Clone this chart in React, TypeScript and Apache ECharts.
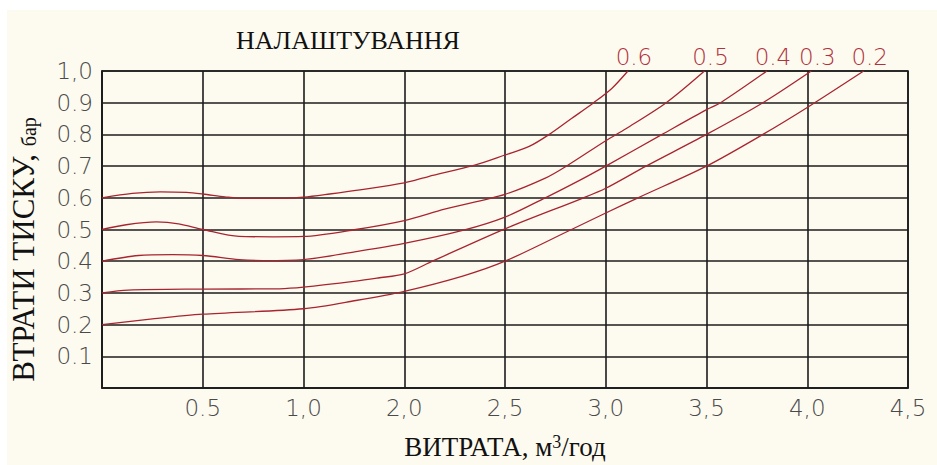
import React, { useEffect, useRef } from "react";
import * as echarts from "echarts";

const X_TICK_LABELS = ["", "0.5", "1,0", "2,0", "2,5", "3,0", "3,5", "4,0", "4,5"];
const Y_TICK_LABELS = ["", "0.1", "0.2", "0.3", "0.4", "0.5", "0.6", "0.7", "0.8", "0.9", "1,0"];
const SETTINGS = ["0.6", "0.5", "0.4", "0.3", "0.2"];

const CURVE_06 = [[0, 0.6], [0.15, 0.614], [0.29, 0.619], [0.42, 0.617], [0.5, 0.612], [0.61, 0.603], [0.7, 0.598], [0.88, 0.598], [1.0, 0.602], [1.13, 0.612], [1.28, 0.625], [1.5, 0.647], [1.62, 0.667], [1.85, 0.703], [2.0, 0.735], [2.12, 0.762], [2.22, 0.8], [2.33, 0.85], [2.44, 0.9], [2.53, 0.945], [2.61, 1.0]];
const CURVE_05 = [[0, 0.5], [0.12, 0.515], [0.27, 0.524], [0.38, 0.518], [0.5, 0.5], [0.68, 0.478], [0.85, 0.477], [1.0, 0.478], [1.26, 0.5], [1.5, 0.528], [1.7, 0.564], [2.0, 0.611], [2.2, 0.662], [2.3, 0.698], [2.5, 0.78], [2.6, 0.818], [2.8, 0.9], [2.99, 1.0]];
const CURVE_04 = [[0, 0.4], [0.18, 0.418], [0.35, 0.421], [0.5, 0.418], [0.68, 0.405], [0.8, 0.402], [1.0, 0.405], [1.26, 0.43], [1.5, 0.456], [1.79, 0.497], [2.0, 0.539], [2.2, 0.6], [2.37, 0.655], [2.5, 0.7], [2.78, 0.8], [3.0, 0.878], [3.07, 0.9], [3.3, 1.0]];
const CURVE_03 = [[0, 0.3], [0.13, 0.309], [0.5, 0.312], [0.88, 0.313], [1.0, 0.318], [1.26, 0.337], [1.37, 0.347], [1.5, 0.36], [1.64, 0.4], [2.0, 0.502], [2.39, 0.6], [2.5, 0.63], [2.7, 0.7], [3.0, 0.8], [3.28, 0.9], [3.52, 1.0]];
const CURVE_02 = [[0, 0.2], [0.25, 0.218], [0.5, 0.233], [1.0, 0.25], [1.26, 0.276], [1.5, 0.305], [1.79, 0.353], [2.0, 0.4], [2.33, 0.5], [2.5, 0.552], [2.66, 0.6], [3.0, 0.7], [3.28, 0.8], [3.51, 0.889], [3.78, 1.0]];

const CURVES = [CURVE_06, CURVE_05, CURVE_04, CURVE_03, CURVE_02];

const SERIF = "'Liberation Serif', 'Times New Roman', serif";
const CAD = "'DejaVu Sans ExtraLight', 'DejaVu Sans', sans-serif";
const RED = "#a82530";
const GRID_COLOR = "#1c1c1c";

export default function App() {
  const ref = useRef<HTMLDivElement>(null);

  useEffect(() => {
    if (!ref.current) return;
    const chart = echarts.init(ref.current, null, { renderer: "svg" });

    const series = CURVES.map((curve, i) => ({
      type: "line",
      name: SETTINGS[i],
      smooth: 0.3,
      symbol: "circle",
      symbolSize: 0,
      showSymbol: true,
      lineStyle: { color: RED, width: 1.3 },
      itemStyle: { color: RED },
      emphasis: { disabled: true },
      data: curve.map((p, j) =>
        j === curve.length - 1
          ? {
              value: p,
              label: {
                show: true,
                position: "top",
                distance: 3,
                offset: [6, 0],
                formatter: SETTINGS[i],
                fontFamily: CAD,
                fontWeight: 200,
                fontSize: 23,
                color: "#b0323c",
              },
            }
          : { value: p }
      ),
    }));

    chart.setOption({
      animation: false,
      backgroundColor: "#fdfbf0",
      title: {
        text: "НАЛАШТУВАННЯ",
        left: 236,
        top: 27,
        padding: 0,
        textStyle: { fontFamily: SERIF, fontSize: 26, fontWeight: "normal", color: "#111" },
      },
      graphic: [
        { type: "rect", left: 0, top: 0, shape: { width: 937, height: 10 }, style: { fill: "#ffffff" }, silent: true },
        { type: "rect", left: 0, top: 0, shape: { width: 7, height: 465 }, style: { fill: "#ffffff" }, silent: true },
      ],
      grid: {
        left: 101,
        top: 71,
        width: 807,
        height: 323.5,
        show: true,
        borderColor: GRID_COLOR,
        borderWidth: 1.6,
        backgroundColor: "transparent",
      },
      xAxis: {
        type: "value",
        min: 0,
        max: 4,
        interval: 0.5,
        name: "ВИТРАТА, м{sup|3}/год",
        nameLocation: "middle",
        nameGap: 45,
        nameTextStyle: {
          fontFamily: SERIF,
          fontSize: 27,
          color: "#111",
          rich: {
            sup: { fontFamily: SERIF, fontSize: 18, color: "#111", verticalAlign: "top", padding: [0, 0, 8, 0] },
          },
        },
        axisLine: { show: true, lineStyle: { color: GRID_COLOR, width: 1.6 } },
        axisTick: { show: false },
        splitLine: { show: true, lineStyle: { color: GRID_COLOR, width: 1.6 } },
        axisLabel: {
          margin: 8,
          fontFamily: CAD,
          fontWeight: 200,
          fontSize: 23,
          color: "#4a4a4a",
          formatter: (v: number) => X_TICK_LABELS[Math.round(v / 0.5)] ?? "",
        },
      },
      yAxis: {
        type: "value",
        min: 0,
        max: 1,
        interval: 0.1,
        name: "ВТРАТИ ТИСКУ, {s|бар}",
        nameLocation: "middle",
        nameGap: 63,
        nameRotate: 90,
        nameTextStyle: {
          fontFamily: SERIF,
          fontSize: 31,
          color: "#111",
          padding: [0, 40, 0, 0],
          rich: {
            s: { fontFamily: SERIF, fontSize: 20, color: "#111", verticalAlign: "bottom" },
          },
        },
        axisLine: { show: true, lineStyle: { color: GRID_COLOR, width: 1.6 } },
        axisTick: { show: false },
        splitLine: { show: true, lineStyle: { color: GRID_COLOR, width: 1.6 } },
        axisLabel: {
          margin: 9,
          fontFamily: CAD,
          fontWeight: 200,
          fontSize: 23,
          color: "#4a4a4a",
          formatter: (v: number) => Y_TICK_LABELS[Math.round(v / 0.1)] ?? "",
        },
      },
      series,
    });

    return () => chart.dispose();
  }, []);

  return (
    <div
      ref={ref}
      style={{ position: "fixed", left: 0, top: 0, width: 937, height: 465 }}
    />
  );
}
